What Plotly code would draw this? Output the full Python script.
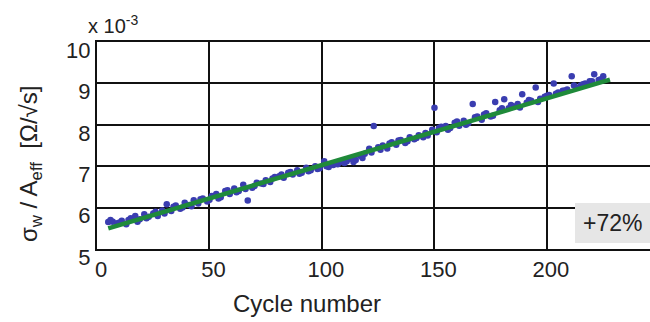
import plotly.graph_objects as go

# ---- data ----
cycles = [5, 7, 9, 11, 13, 15, 17, 19, 21, 23, 25, 27, 29, 31, 33, 35, 37, 39, 41, 43,
          45, 47, 49, 51, 53, 55, 57, 59, 61, 63, 65, 67, 69, 71, 73, 75, 77, 79, 81, 83,
          85, 87, 89, 91, 93, 95, 97, 99, 101, 103, 105, 107, 109, 111, 113, 115, 117, 119, 121, 123,
          125, 127, 129, 131, 133, 135, 137, 139, 141, 143, 145, 147, 149, 150, 151, 153, 155, 157, 159, 161,
          163, 165, 167, 169, 171, 173, 175, 177, 179, 181, 183, 185, 187, 189, 191, 193, 195, 197, 199, 201,
          203, 205, 207, 209, 211, 213, 215, 217, 219, 221, 223, 225]
sigma_norm = [5.65, 5.66, 5.62, 5.68, 5.60, 5.74, 5.80, 5.72, 5.84, 5.78, 5.86, 5.80, 5.93, 6.08, 5.92, 6.05, 5.97, 6.12, 6.06, 6.18,
              6.10, 6.22, 6.15, 6.28, 6.33, 6.25, 6.40, 6.33, 6.46, 6.40, 6.55, 6.17, 6.48, 6.60, 6.58, 6.66, 6.62, 6.74, 6.76, 6.72,
              6.84, 6.80, 6.90, 6.84, 6.96, 6.90, 7.00, 6.95, 7.12, 6.98, 7.03, 7.05, 7.10, 7.12, 7.18, 7.15, 7.25, 7.30, 7.42, 7.97,
              7.46, 7.50, 7.43, 7.58, 7.52, 7.63, 7.56, 7.70, 7.65, 7.75, 7.70, 7.74, 7.88, 8.41, 7.82, 7.95, 7.97, 7.92, 8.05, 7.98,
              8.10, 8.04, 8.50, 8.20, 8.12, 8.28, 8.20, 8.55, 8.35, 8.62, 8.40, 8.45, 8.50, 8.74, 8.53, 8.58, 8.90, 8.63, 8.68, 8.72,
              9.00, 8.78, 8.82, 8.85, 9.17, 8.90, 8.95, 9.00, 9.05, 9.22, 9.08, 9.17]
cycles_extra = [6, 10, 14, 18, 22, 26, 30, 34, 38, 42, 46, 50, 54, 58, 62, 66, 70, 74, 78, 82,
                86, 90, 94, 98, 102, 106, 110, 114, 118, 122, 126, 130, 134, 138, 142, 146, 152, 156, 160, 164,
                168, 172, 176, 180, 184, 188, 192, 196, 200, 204, 208, 212, 216, 220, 224]
sigma_extra = [5.70, 5.64, 5.70, 5.66, 5.74, 5.90, 5.86, 6.02, 6.00, 6.03, 6.20, 6.19, 6.22, 6.42, 6.37, 6.45, 6.52, 6.57, 6.70, 6.80,
               6.86, 6.82, 6.88, 6.93, 7.00, 7.08, 7.08, 7.10, 7.20, 7.33, 7.40, 7.55, 7.62, 7.60, 7.68, 7.80, 7.92, 7.88, 8.08, 8.00,
               8.18, 8.25, 8.22, 8.40, 8.48, 8.42, 8.60, 8.55, 8.70, 8.75, 8.83, 8.95, 8.98, 9.05, 9.10]
fit_cycles = [5, 228]
fit_values = [5.50, 9.09]

x_ticks = [0, 50, 100, 150, 200]
y_ticks = [5, 6, 7, 8, 9, 10]
increase_label = "+72%"

FONT = "Liberation Sans, Arial, sans-serif"

fig = go.Figure()
fig.add_trace(go.Scatter(x=cycles + cycles_extra, y=sigma_norm + sigma_extra, mode="markers",
                         marker=dict(color="#3a3db0", size=6.5, line=dict(width=0)),
                         showlegend=False, cliponaxis=False))
fig.add_trace(go.Scatter(x=fit_cycles, y=fit_values, mode="lines",
                         line=dict(color="#1f8a3a", width=4.5), showlegend=False))

# target positions in screen pixels (body margin removed by post_script)
L, T, R, B = 97, 42, 650, 249
W, H = R - L, B - T
def px(x): return (x - L) / W
def py(y): return (B - y) / H

fig.update_layout(
    width=650, height=322,
    margin=dict(l=L, r=650 - R, t=T, b=322 - B, autoexpand=False),
    paper_bgcolor="white", plot_bgcolor="white",
    font=dict(family=FONT, size=22, color="#222222"),
    xaxis=dict(range=[0, 245.8], tickvals=x_ticks, showgrid=True, gridcolor="#111111", gridwidth=1.5,
               showline=True, linecolor="#111111", linewidth=2, mirror=True, ticks="",
               zeroline=False, tickfont=dict(size=22), automargin=False, ticklabelshift=4),
    yaxis=dict(range=[5, 10], tickvals=y_ticks, showgrid=True, gridcolor="#111111", gridwidth=1.5,
               showline=True, linecolor="#111111", linewidth=2, mirror=True, ticks="",
               zeroline=False, tickfont=dict(size=22), automargin=False, ticklabelshift=8),
    shapes=[dict(type="rect", xref="paper", yref="paper",
                 x0=px(575), x1=px(652), y0=py(243), y1=py(203),
                 fillcolor="#e6e6e6", line=dict(width=0), layer="above")],
    annotations=[
        dict(text=increase_label, xref="paper", yref="paper", x=px(612), y=py(223),
             xanchor="center", yanchor="middle",
             showarrow=False, font=dict(size=23, color="#222222")),
        dict(text="x 10<sup>-3</sup>", xref="paper", yref="paper", x=px(86), y=py(24),
             xanchor="left", yanchor="middle", showarrow=False, font=dict(size=20, color="#222222")),
        dict(text="σ<sub>w</sub> / A<sub>eff</sub>  [Ω/√s]", xref="paper", yref="paper",
             x=px(30), y=py(164), xanchor="center", yanchor="middle", textangle=-90, showarrow=False,
             font=dict(size=24, color="#222222")),
        dict(text="Cycle number", xref="paper", yref="paper", x=px(307), y=py(303),
             xanchor="center", yanchor="middle",
             showarrow=False, font=dict(size=24, color="#222222")),
    ],
)

fig.write_html("out.html", config={"displayModeBar": False},
               post_script="document.body.style.margin='0';document.body.style.overflow='hidden';")
